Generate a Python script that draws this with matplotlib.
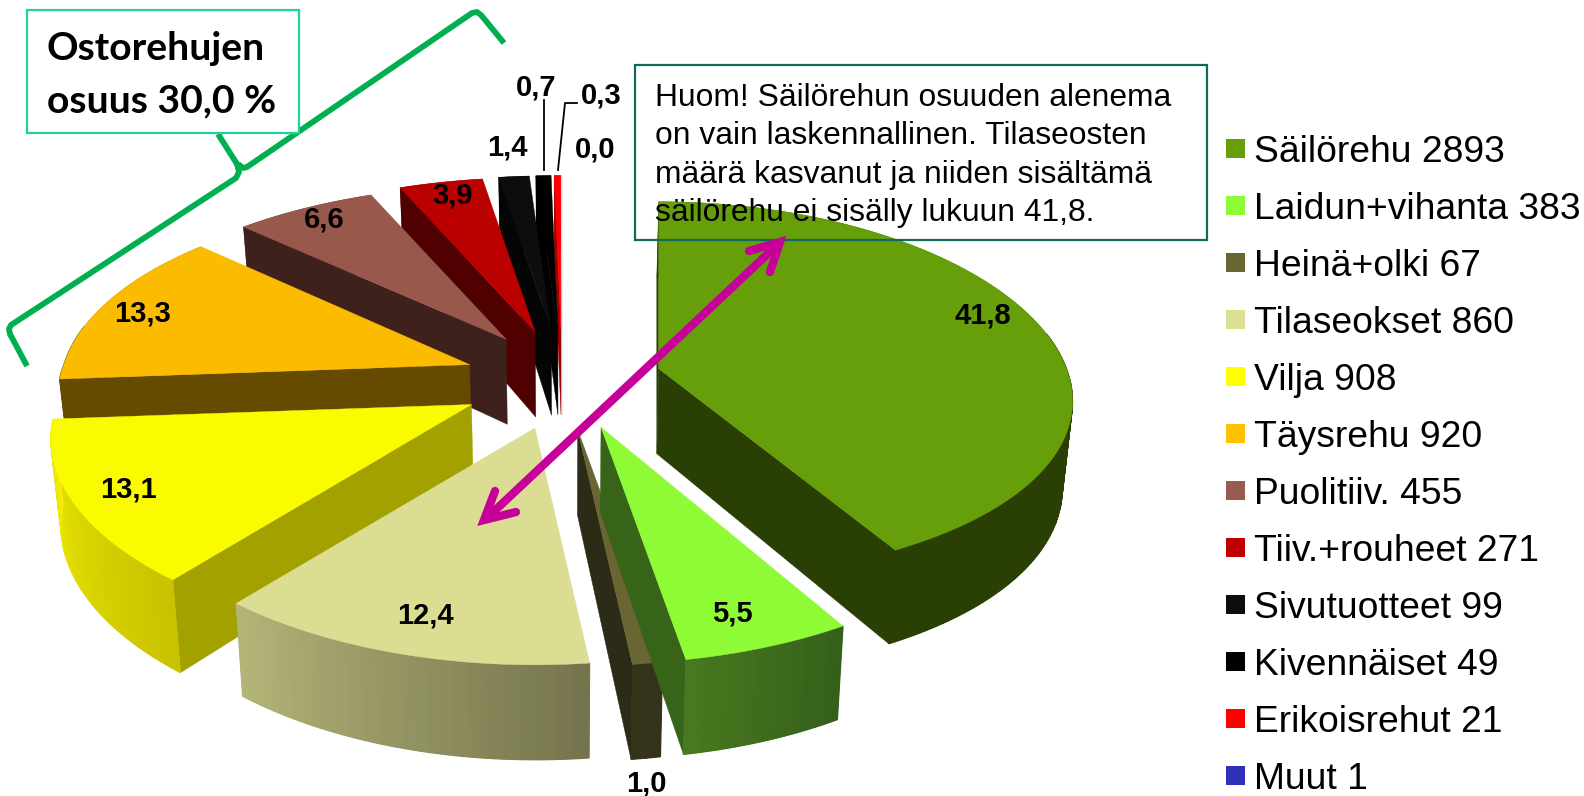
import numpy as np
from matplotlib import pyplot as plt
from matplotlib.patches import Rectangle

plt.rcParams['font.family'] = ['Liberation Sans', 'DejaVu Sans']

# legend order = clockwise from 12 o'clock
names = ['Säilörehu', 'Laidun+vihanta', 'Heinä+olki', 'Tilaseokset', 'Vilja', 'Täysrehu',
         'Puolitiiv.', 'Tiiv.+rouheet', 'Sivutuotteet', 'Kivennäiset', 'Erikoisrehut', 'Muut']
amounts = [2893, 383, 67, 860, 908, 920, 455, 271, 99, 49, 21, 1]
pct_labels = ['41,8', '5,5', '1,0', '12,4', '13,1', '13,3', '6,6', '3,9', '1,4', '0,7', '0,3', '0,0']

top_colors = ['#669f09', '#8ffb36', '#696633', '#dadd92', '#fbfb00', '#fbbc00',
              '#98584c', '#bb0000', '#0d0d0d', '#000000', '#ff0000', '#d8d8f0']
legend_colors = ['#669f09', '#8ffb36', '#696633', '#dce095', '#ffff00', '#ffc000',
                 '#9a5b4f', '#c00000', '#0d0d0d', '#000000', '#ff0000', '#3030b8']
side_colors = ['#2a3f04', '#38641a', '#2c2b17', '#75744d', '#a3a100', '#654a00',
               '#3e211d', '#500000', '#050505', '#000000', '#a00000', '#d8d8f0']
# outer wall, colour at start and end of the arc
wall_a = ['#2a3f04', '#35601a', '#35331a', '#75744d', '#c8c200', '#654a00',
          '#3e211d', '#500000', '#050505', '#000000', '#a00000', '#d8d8f0']
wall_b = ['#2a3f04', '#48781f', '#35331a', '#b3b578', '#f2ee00', '#654a00',
          '#3e211d', '#500000', '#050505', '#000000', '#a00000', '#d8d8f0']

label_xy = [(983, 316), (732, 613), (646, 783), (425, 616), (128, 489), (143, 314),
            (324, 219), (453, 195), (507, 148), (536, 87), (601, 96), (595, 150)]

# projection of the disc, values in pixels
CX, CY = 562, 382
RX, RY = 414, 187
EX, EY_UP, EY_DOWN = 98, 52, 48
LEAN = 0.98
# the picture is not one clean perspective, so a few slices get their own
ky = [0.12, 0.21, 0.21, 0.21, 0.21, 0.13, 0.21, 0.21, 0.21, 0.21, 0.21, 0.21]
kx_front = [0.17, 0.177, 0.177, 0.177, 0.177, 0.177, 0.177, 0.177, 0.177, 0.177, 0.177, 0.177]
kx_back = [0.17, 0.21, 0.21, 0.21, 0.21, 0.14, 0.21, 0.21, 0.21, 0.21, 0.21, 0.21]
rx_scale = [0.985, 1, 1, 1, 1, 0.98, 1, 1, 1, 1, 1, 1]
nudge_x = [2, 6, 2, 0, -4, 0, 0, 0, 0, 0, 0, 0]


def project(ox, oy, u, v, i, bottom=False):
    kx = np.where(np.asarray(v) > 0, kx_front[i], kx_back[i])
    x = ox + RX * rx_scale[i] * u / (1 - kx * v)
    y = oy + RY * v / (1 - ky[i] * v)
    if bottom:
        x = CX + (x - CX) * LEAN
        y = y + 85 + 10 * v
    return x, y


def blend(c1, c2, t):
    a = np.array(plt.matplotlib.colors.to_rgb(c1))
    b = np.array(plt.matplotlib.colors.to_rgb(c2))
    return tuple(a + (b - a) * t)


def draw_slice(ax, th0, th1, i):
    mid = (th0 + th1) / 2
    ox = CX + EX * np.sin(mid) + nudge_x[i]
    oy = CY - np.cos(mid) * (EY_UP if np.cos(mid) > 0 else EY_DOWN)
    th = np.linspace(th0, th1, max(3, int((th1 - th0) * 60)))
    u = np.sin(th)
    v = -np.cos(th)
    ax_top, ay_top = project(ox, oy, 0, 0, i)
    ax_bot, ay_bot = project(ox, oy, 0, 0, i, True)
    xt, yt = project(ox, oy, u, v, i)
    xb, yb = project(ox, oy, u, v, i, True)

    # radial faces, only the ones turned to the viewer
    for n, sign in ((0, -1), (-1, 1)):
        cross = (xt[n] - ax_top) * (yb[n] - yt[n]) - (yt[n] - ay_top) * (xb[n] - xt[n])
        if cross * sign > 0:
            ax.fill([ax_top, xt[n], xb[n], ax_bot], [ay_top, yt[n], yb[n], ay_bot],
                    color=side_colors[i], lw=0.3)

    # outer wall in strips for the gradient, whole wall under it against seams
    ax.fill(np.r_[xt, xb[::-1]], np.r_[yt, yb[::-1]], color=blend(wall_a[i], wall_b[i], 0.5), lw=0)
    for n in range(len(th) - 1):
        if v[n] < -0.2:  # hidden behind the top anyway
            continue
        c = blend(wall_a[i], wall_b[i], n / max(1, len(th) - 2))
        ax.fill([xt[n], xt[n + 1], xb[n + 1], xb[n]], [yt[n], yt[n + 1], yb[n + 1], yb[n]],
                color=c, lw=0.8)

    ax.fill(np.r_[ax_top, xt], np.r_[ay_top, yt], color=top_colors[i], lw=0.3)


fig = plt.figure(figsize=(15.84, 7.96), dpi=100)
ax = fig.add_axes([0, 0, 1, 1])
ax.set_xlim(0, 1584)
ax.set_ylim(796, 0)
ax.axis('off')

edges = np.r_[0, np.cumsum(amounts)] / np.sum(amounts) * 2 * np.pi
for i in range(len(amounts) - 1, -1, -1):
    draw_slice(ax, edges[i], edges[i + 1], i)

for txt, (x, y) in zip(pct_labels, label_xy):
    ax.text(x, y, txt, fontsize=21, fontweight='bold', ha='center', va='center', zorder=6)

# leader lines of the small slices
ax.plot([544, 544], [100, 170], color='black', lw=1.3, zorder=5)
ax.plot([577, 565, 558], [103, 103, 170], color='black', lw=1.3, zorder=5)

# legend
for i, (name, val) in enumerate(zip(names, amounts)):
    y = 148.5 + i * 57.0
    ax.add_patch(Rectangle((1226, y - 9.5), 19, 19, color=legend_colors[i], lw=0))
    ax.text(1254, y, f'{name} {val}', fontsize=26.8, va='center_baseline', ha='left')

# note box, no fill
ax.add_patch(Rectangle((635, 65), 572, 175, fill=False, ec='#0e6b5c', lw=1.6, zorder=4))
note = ['Huom! Säilörehun osuuden alenema', 'on vain laskennallinen. Tilaseosten',
        'määrä kasvanut ja niiden sisältämä', 'säilörehu ei sisälly lukuun 41,8.']
for line, y in zip(note, [95, 133, 172, 209]):
    ax.text(655, y, line, fontsize=22.9, va='center_baseline', zorder=5)

# title box and brace
ax.add_patch(Rectangle((26.5, 9.5), 272.5, 123, fc='white', ec='#1fd0a4', lw=1.6, zorder=4))
ax.text(47, 49, 'Ostorehujen', fontsize=28.2, fontweight='bold', family='Lato', va='center', zorder=5)
ax.text(47, 101, 'osuus 30,0 %', fontsize=28.2, fontweight='bold', family='Lato', va='center', zorder=5)

brace = dict(color='#00b050', lw=4.2, solid_capstyle='butt', solid_joinstyle='round', zorder=3)
ax.plot([27, 10, 9, 11, 236, 239, 237, 218], [366, 334, 329, 325, 178, 172, 164, 134], **brace)
ax.plot([238, 243, 247, 472, 477, 481, 504], [164, 168, 167, 13, 12, 15, 43], **brace)

# double arrow
pink = dict(color='#c8009a', lw=6, solid_capstyle='round', solid_joinstyle='miter', zorder=5)
ax.plot([775, 488], [247, 517], **dict(pink, solid_capstyle='butt'))
ax.plot([749, 780, 770], [251, 242, 272], **pink)
ax.plot([495, 484, 516], [491, 520, 512], **pink)

fig.savefig('out.png', dpi=100)
